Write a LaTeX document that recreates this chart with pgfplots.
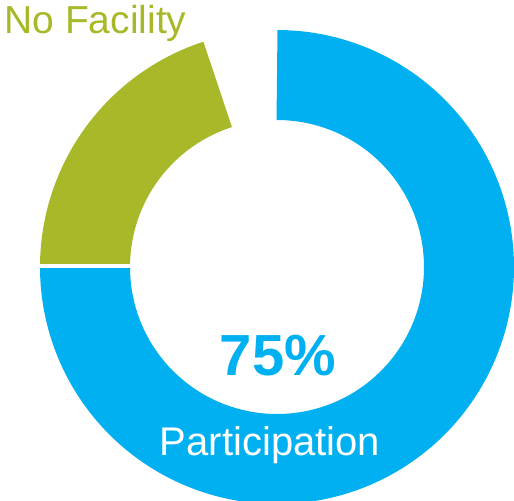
\documentclass[border=0pt]{standalone}
\usepackage{pgfplots}
\pgfplotsset{compat=1.18}
\usepackage{pgfplotstable}
\usepackage{fontspec}
\setmainfont{Liberation Sans}
\definecolor{partblue}{RGB}{0,176,240}
\definecolor{facgreen}{RGB}{168,184,40}
% share of respondents (percent)
\pgfplotstableread{
label value
Participation 75
NoFacility 20
}\donutdata
\pgfplotstablegetelem{0}{value}\of\donutdata \let\vPart\pgfplotsretval
\pgfplotstablegetelem{1}{value}\of\donutdata \let\vFac\pgfplotsretval
\begin{document}
\begin{tikzpicture}
\begin{axis}[
  hide axis, scale only axis,
  width=257pt, height=250pt,
  xmin=0, xmax=514, ymin=0, ymax=500,
  clip=true,
]
% blue slice: from top, clockwise
\pgfmathsetmacro{\aPartStart}{90-3.6*\vPart}
\pgfmathsetmacro{\aFacStart}{90-3.6*(\vPart+\vFac)}
\addplot[partblue, line width=45pt, domain=\aPartStart:90, samples=240, line cap=butt]
  ({277+192*cos(x)},{233+192*sin(x)});
\addplot[facgreen, line width=45pt, domain=\aFacStart:\aPartStart, samples=100, line cap=butt]
  ({277+192*cos(x)},{233+192*sin(x)});
\addplot[white, line width=1.6pt] coordinates {(131,234) (30,234)};
\node[anchor=base west, inner sep=0pt, text=facgreen, font=\fontsize{19.5}{23}\selectfont] at (axis cs:4,467) {No Facility};
\node[anchor=base, inner sep=0pt, text=partblue, font=\fontsize{29}{34}\selectfont\bfseries] at (axis cs:278,125) {75\%};
\node[anchor=base, inner sep=0pt, text=white, font=\fontsize{20}{24}\selectfont] at (axis cs:270,45) {Participation};
\end{axis}
\pgfresetboundingbox
\useasboundingbox (current axis.south west) rectangle (current axis.north east);
\end{tikzpicture}
\end{document}
